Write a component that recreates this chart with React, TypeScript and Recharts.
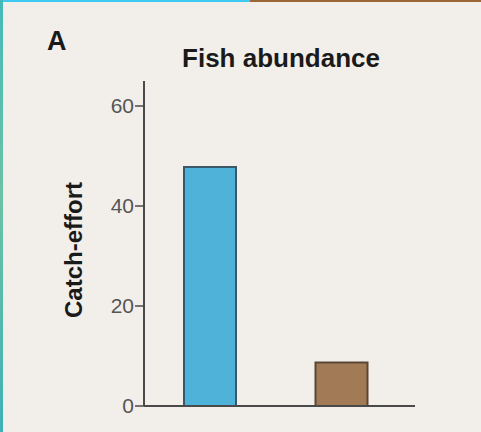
import React from "react";
import { BarChart, Bar, XAxis, YAxis, Cell } from "recharts";

const categories = ["Site 1", "Site 2"];
const catchEffort = [47.8, 8.7];
const barColors = ["#4fb3d9", "#a27a55"];
const barStrokes = ["#3b5869", "#5a4636"];
const yTicks = [0, 20, 40, 60];

const data = categories.map((c, i) => ({ name: c, value: catchEffort[i] }));
const FONT = "'Liberation Sans', Arial, sans-serif";

export default function App() {
  return (
    <div style={{ position: "absolute", left: 0, top: 0, width: 481, height: 432, background: "#f2efeb", overflow: "hidden", fontFamily: FONT }}>
      <div style={{ position: "absolute", left: 0, top: 0, width: 250, height: 2, background: "#3ec9f2" }} />
      <div style={{ position: "absolute", left: 250, top: 0, width: 231, height: 2, background: "#9c6534" }} />
      <div style={{ position: "absolute", left: 0, top: 0, width: 3, height: 432, background: "linear-gradient(#45b9b8, #6cc2a4 45%, #3fb0b4)" }} />
      <svg width={481} height={432} style={{ position: "absolute", left: 0, top: 0 }}>
        <text x={47} y={50} fontSize={27} fontWeight="bold" fill="#1a1a1a" fontFamily={FONT}>A</text>
        <text x={281} y={67} fontSize={26} fontWeight="bold" fill="#1a1a1a" textAnchor="middle" fontFamily={FONT}>Fish abundance</text>
        <text x={0} y={0} transform="translate(82,250) rotate(-90)" fontSize={24} fontWeight="bold" fill="#1a1a1a" textAnchor="middle" fontFamily={FONT}>Catch-effort</text>
      </svg>
      <div style={{ position: "absolute", left: 0, top: 0 }}>
        <BarChart width={481} height={432} data={data} margin={{ top: 81, right: 66, bottom: 25, left: 0 }}>
          <XAxis dataKey="name" tick={false} tickLine={false} height={1} padding={{ left: 0, right: 8 }} axisLine={{ stroke: "#4a4a4a", strokeWidth: 2 }} />
          <YAxis width={144} domain={[0, 65]} ticks={yTicks} tickSize={9} tickMargin={1} interval={0}
            axisLine={{ stroke: "#4a4a4a", strokeWidth: 2 }} tickLine={{ stroke: "#4a4a4a", strokeWidth: 1.5 }}
            tick={{ fill: "#555", fontSize: 21, fontFamily: FONT }} />
          <Bar dataKey="value" barSize={52} isAnimationActive={false} strokeWidth={2}>
            {data.map((d, i) => (
              <Cell key={d.name} fill={barColors[i]} stroke={barStrokes[i]} />
            ))}
          </Bar>
        </BarChart>
      </div>
    </div>
  );
}
